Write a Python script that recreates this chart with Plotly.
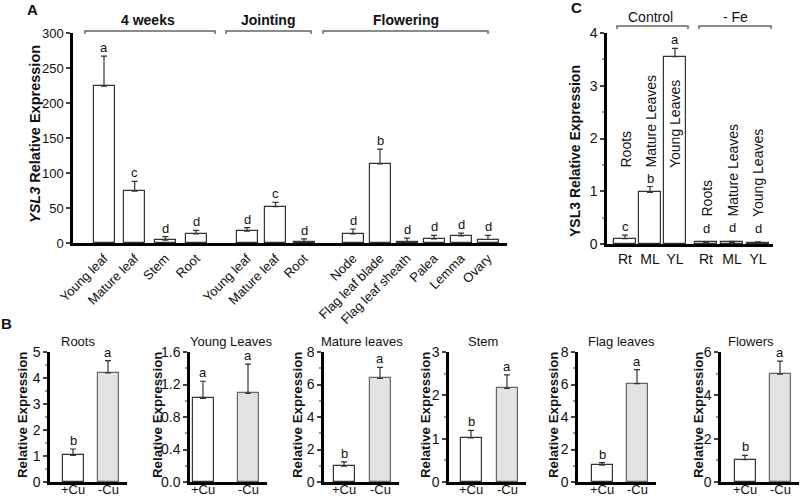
import plotly.graph_objects as go

W, H = 800, 497
FONT = "Liberation Sans, Arial, sans-serif"

# ---------------- Panel A data ----------------
a_group_names = ["4 weeks", "Jointing", "Flowering"]
a_tissues_4w = ["Young leaf", "Mature leaf", "Stem", "Root"]
a_vals_4w = [224, 74, 4, 13]
a_err_4w = [43, 14, 5, 5]
a_sig_4w = ["a", "c", "d", "d"]
a_tissues_j = ["Young leaf", "Mature leaf", "Root"]
a_vals_j = [17, 52, 2]
a_err_j = [5, 6, 4]
a_sig_j = ["d", "c", "d"]
a_tissues_f = ["Node", "Flag leaf blade", "Flag leaf sheath", "Palea", "Lemma", "Ovary"]
a_vals_f = [13, 113, 2, 6, 10, 5]
a_err_f = [7, 21, 5, 5, 4, 6]
a_sig_f = ["d", "b", "d", "d", "d", "d"]
a_yticks = [0, 50, 100, 150, 200, 250, 300]

# ---------------- Panel C data ----------------
c_group_names = ["Control", "- Fe"]
c_ticks = ["Rt", "ML", "YL"]
c_names = ["Roots", "Mature Leaves", "Young Leaves"]
c_ctrl = [0.10, 0.98, 3.55]
c_ctrl_err = [0.07, 0.11, 0.16]
c_ctrl_sig = ["c", "b", "a"]
c_fe = [0.03, 0.03, 0.02]
c_fe_err = [0.01, 0.02, 0.02]
c_fe_sig = ["d", "d", "d"]
c_yticks = [0, 1, 2, 3, 4]

# ---------------- Panel B data ----------------
b_titles = ["Roots", "Young Leaves", "Mature leaves", "Stem", "Flag leaves", "Flowers"]
b_treat = ["+Cu", "-Cu"]
b_plus = [1.02, 1.03, 0.97, 1.02, 1.03, 1.03]
b_plus_err = [0.25, 0.21, 0.27, 0.17, 0.16, 0.20]
b_minus = [4.20, 1.09, 6.37, 2.16, 6.05, 4.98]
b_minus_err = [0.47, 0.36, 0.68, 0.31, 0.86, 0.60]
b_sig_plus = ["b", "a", "b", "b", "b", "b"]
b_sig_minus = ["a", "a", "a", "a", "a", "a"]
b_ymax = [5, 1.6, 8, 3, 8, 6]
b_dtick = [1, 0.4, 2, 1, 2, 2]
b_minor = [0.5, 0.2, 1, 0.5, 1, 1]


def PX(p):
    return p / W


def PY(p):
    return 1 - p / H


fig = go.Figure()
annotations = []
shapes = []
layout = {}

TXT = "#111"
bar_line = "#333"
err_style = dict(color="#333", thickness=1.2, width=3)


def axis_common():
    return dict(showgrid=False, zeroline=False, showline=True, linecolor="black",
                linewidth=2.5, automargin=False,
                tickfont=dict(family=FONT, size=13, color=TXT))


def note(x, y, text, size=13, bold=False, angle=0, xref="paper", yref="paper",
         xanchor="center", yanchor="middle", yshift=0):
    annotations.append(dict(x=x, y=y, xref=xref, yref=yref,
                            text=(f"<b>{text}</b>" if bold else text),
                            textangle=angle, showarrow=False, xanchor=xanchor,
                            yanchor=yanchor, yshift=yshift, borderpad=0,
                            font=dict(family=FONT, size=size, color=TXT)))


def add_letters(xref, yref, xs, tops, letters, yshift=0):
    for x, t, s in zip(xs, tops, letters):
        note(x, t, s, size=13, xref=xref, yref=yref, yanchor="bottom", yshift=yshift)


def bracket(x0, x1, y, tick=3, color="#666"):
    shapes.append(dict(type="path", xref="paper", yref="paper",
                       path=f"M {PX(x0)},{PY(y + tick)} L {PX(x0)},{PY(y)} L {PX(x1)},{PY(y)} L {PX(x1)},{PY(y + tick)}",
                       line=dict(color=color, width=1.5)))


# ---------------- Panel A ----------------
a_sets = [(a_tissues_4w, a_vals_4w, a_err_4w, a_sig_4w),
          (a_tissues_j, a_vals_j, a_err_j, a_sig_j),
          (a_tissues_f, a_vals_f, a_err_f, a_sig_f)]
# (domain start px, domain end px, first bar centre px, bar spacing px)
a_geom = [(73, 222, 104, 30.7), (222, 322, 247, 28.5), (322, 507, 353, 27.0)]
A_TOP, A_BOT = 33, 243
for i, ((t, v, e, s), (d0, d1, b0, sp)) in enumerate(zip(a_sets, a_geom)):
    xa = "x" if i == 0 else f"x{i + 1}"
    fig.add_trace(go.Bar(x=t, y=v, xaxis=xa, yaxis="y", width=21 / sp,
                         marker=dict(color="white", line=dict(color=bar_line, width=1.2)),
                         error_y=dict(type="data", array=e, arrayminus=[0] * len(e),
                                      symmetric=False, **err_style),
                         showlegend=False))
    r0 = -(b0 - d0) / sp
    r1 = r0 + (d1 - d0) / sp
    ax = axis_common()
    ax.update(domain=[PX(d0), PX(d1)], range=[r0, r1], type="category", ticks="",
              tickangle=-45, anchor="y")
    layout["xaxis" if i == 0 else f"xaxis{i + 1}"] = ax
    add_letters(xa, "y", t, [a + b for a, b in zip(v, e)], s)

ay = axis_common()
ay.update(domain=[PY(A_BOT), PY(A_TOP)], range=[0, 300], tickvals=a_yticks,
          ticks="outside", ticklen=4, tickwidth=1.5, anchor="x")
layout["yaxis"] = ay

note(PX(35), PY(134), "<i>YSL3</i> Relative Expression", size=14.5, bold=True, angle=-90)
a_br = [(85, 215, 148), (226, 311, 268), (323, 488, 406)]
for name, (x0, x1, xc) in zip(a_group_names, a_br):
    bracket(x0, x1, 31)
    note(PX(xc), PY(20), name, size=14, bold=True)
note(PX(32), PY(9), "A", size=15, bold=True)

# ---------------- Panel C ----------------
C_TOP, C_BOT = 33, 244
c_sets = [(c_ctrl, c_ctrl_err, c_ctrl_sig), (c_fe, c_fe_err, c_fe_sig)]
c_geom = [(607, 690, 625, 25.0), (690, 773, 706, 26.0)]
c_label_bottom = [169, 218]
for j, ((v, e, s), (d0, d1, b0, sp)) in enumerate(zip(c_sets, c_geom)):
    n = 4 + j
    xa = f"x{n}"
    fig.add_trace(go.Bar(x=c_ticks, y=v, xaxis=xa, yaxis="y2", width=22 / sp,
                         marker=dict(color="white", line=dict(color=bar_line, width=1.2)),
                         error_y=dict(type="data", array=e, arrayminus=[0] * len(e),
                                      symmetric=False, **err_style),
                         showlegend=False))
    r0 = -(b0 - d0) / sp
    r1 = r0 + (d1 - d0) / sp
    ax = axis_common()
    ax.update(domain=[PX(d0), PX(d1)], range=[r0, r1], type="category", ticks="",
              anchor="y2", tickfont=dict(family=FONT, size=14, color=TXT))
    layout[f"xaxis{n}"] = ax
    add_letters(xa, "y2", c_ticks, [a + b for a, b in zip(v, e)], s, yshift=(5 if j == 1 else 0))
    for tk, nm in zip(c_ticks, c_names):
        note(tk, PY(c_label_bottom[j]), nm, size=14, angle=-90, xref=xa, yanchor="bottom")

cy = axis_common()
cy.update(domain=[PY(C_BOT), PY(C_TOP)], range=[0, 4], tickvals=c_yticks,
          ticks="outside", ticklen=4, tickwidth=1.5, anchor="x4",
          tickfont=dict(family=FONT, size=14, color=TXT),
          minor=dict(ticks="outside", ticklen=2, dtick=0.5, tickcolor="#999"))
layout["yaxis2"] = cy
note(PX(575), PY(151), "YSL3 Relative Expression", size=14, bold=True, angle=-90)
c_br = [(617, 688, 650), (699, 771, 735)]
for name, (x0, x1, xc) in zip(c_group_names, c_br):
    bracket(x0, x1, 26)
    note(PX(xc), PY(17), name, size=14)
note(PX(576), PY(8), "C", size=15, bold=True)

# ---------------- Panel B ----------------
B_TOP, B_BOT = 352, 482
b_axis_px = [50, 190, 324, 449, 578, 721]
b_bar_px = [(73, 108), (203, 248), (344, 380), (471, 507), (602, 637), (745, 780)]
b_title_px = [78, 231, 362, 483, 621, 751]
b_title_off = [28, 33, 27, 24, 25, 23]
for k in range(6):
    n = 6 + k
    xa, ya = f"x{n}", f"y{3 + k}"
    d0 = b_axis_px[k]
    p0, p1 = b_bar_px[k]
    sp = p1 - p0
    d1 = p1 + 19
    fig.add_trace(go.Bar(x=b_treat, y=[b_plus[k], b_minus[k]], xaxis=xa, yaxis=ya, width=21 / sp,
                         marker=dict(color=["white", "#e3e3e3"],
                                     line=dict(color=["#333", "#666"], width=1.2)),
                         error_y=dict(type="data", array=[b_plus_err[k], b_minus_err[k]],
                                      arrayminus=[0, 0], symmetric=False, **err_style),
                         showlegend=False))
    r0 = -(p0 - d0) / sp
    r1 = r0 + (d1 - d0) / sp
    ax = axis_common()
    ax.update(domain=[PX(d0), PX(d1)], range=[r0, r1], type="category", ticks="",
              showticklabels=False, anchor=ya)
    layout[f"xaxis{n}"] = ax
    for tr in b_treat:
        note(tr, PY(489.5), tr, size=13, xref=xa)
    yax = axis_common()
    yax.update(domain=[PY(B_BOT), PY(B_TOP)], range=[0, b_ymax[k]], dtick=b_dtick[k], tick0=0,
               ticks="outside", ticklen=4, tickwidth=1.5, anchor=xa,
               tickfont=dict(family=FONT, size=14, color=TXT),
               minor=dict(ticks="outside", ticklen=2, dtick=b_minor[k], tickcolor="#999"))
    if b_dtick[k] < 1:
        yax["tickformat"] = ".1f"
    layout[f"yaxis{3 + k}"] = yax
    add_letters(xa, ya, b_treat, [b_plus[k] + b_plus_err[k], b_minus[k] + b_minus_err[k]],
                [b_sig_plus[k], b_sig_minus[k]])
    note(PX(b_title_px[k]), PY(341), b_titles[k], size=13)
    note(PX(d0 - b_title_off[k]), PY(415), "Relative Expression", size=13.3, bold=True, angle=-90)
note(PX(6), PY(323), "B", size=15, bold=True)

fig.update_layout(width=W, height=H, autosize=False,
                  margin=dict(l=0, r=0, t=0, b=0, pad=0, autoexpand=False),
                  paper_bgcolor="white", plot_bgcolor="white", bargap=0,
                  annotations=annotations, shapes=shapes, **layout)

fig.write_html("out.html", config={"displayModeBar": False},
               post_script="document.body.style.margin='0px';")
